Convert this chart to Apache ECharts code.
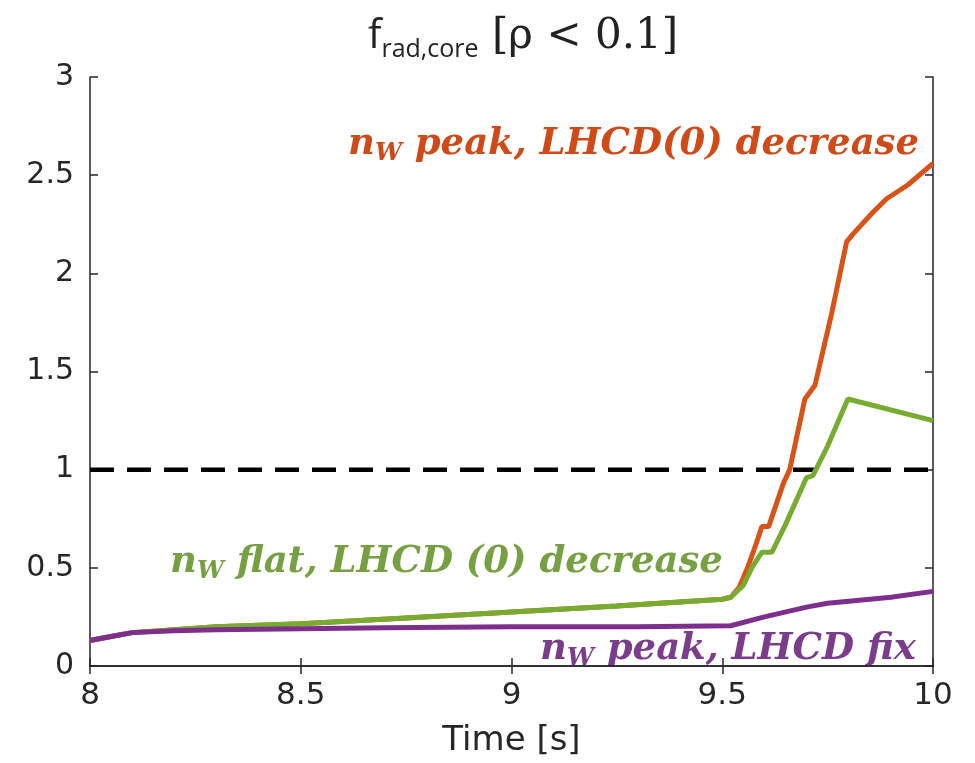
<!DOCTYPE html>
<html><head><meta charset="utf-8">
<script src="https://cdn.jsdelivr.net/npm/echarts@6/dist/echarts.min.js"></script>
<style>html,body{margin:0;padding:0;background:#fff}#c{width:975px;height:763px}</style>
</head><body><div id="c"></div>
<script>
var xTicks = [8, 8.5, 9, 9.5, 10];
var yTicks = [0, 0.5, 1, 1.5, 2, 2.5, 3];

var tOrange = [8.0, 8.05, 8.1, 8.2, 8.3, 8.5, 8.75, 9.0, 9.25, 9.5, 9.52, 9.54, 9.56, 9.58, 9.594, 9.61, 9.645, 9.66, 9.696, 9.72, 9.76, 9.795, 9.81, 9.857, 9.89, 9.94, 10.0];
var vOrange = [0.13, 0.15, 0.17, 0.185, 0.2, 0.215, 0.245, 0.275, 0.305, 0.34, 0.35, 0.4, 0.5, 0.62, 0.71, 0.71, 0.93, 1.0, 1.36, 1.43, 1.8, 2.16, 2.2, 2.31, 2.38, 2.45, 2.56];

var tGreen = [8.0, 8.05, 8.1, 8.2, 8.3, 8.5, 8.75, 9.0, 9.25, 9.5, 9.52, 9.55, 9.57, 9.594, 9.618, 9.65, 9.70, 9.715, 9.75, 9.798, 10.0];
var vGreen = [0.13, 0.15, 0.17, 0.185, 0.2, 0.215, 0.245, 0.275, 0.305, 0.34, 0.35, 0.41, 0.5, 0.58, 0.58, 0.72, 0.96, 0.97, 1.12, 1.36, 1.25];

var tPurple = [8.0, 8.05, 8.1, 8.2, 8.3, 8.5, 8.7, 9.0, 9.3, 9.52, 9.6, 9.7, 9.75, 9.8, 9.9, 10.0];
var vPurple = [0.13, 0.15, 0.17, 0.18, 0.185, 0.19, 0.195, 0.2, 0.2, 0.205, 0.25, 0.3, 0.32, 0.33, 0.35, 0.38];

var tRef = [8, 10];
var vRef = [1, 1];

function pairs(t, v) { return t.map(function (x, i) { return [x, v[i]]; }); }

var chart = echarts.init(document.getElementById('c'));
var axCol = '#262626';
var serifBI = 'DejaVu Serif';
function annot(left, top, rest, color) {
  return { type: 'text', left: left, top: top, style: {
    text: '{n|n}{s|W}{n|' + rest + '}',
    rich: {
      n: { fontFamily: serifBI, fontStyle: 'italic', fontWeight: 'bold', fontSize: 37, fill: color },
      s: { fontFamily: serifBI, fontStyle: 'italic', fontWeight: 'bold', fontSize: 24, fill: color, padding: [19, 0, 0, 0] }
    } } };
}
chart.setOption({
  animation: false,
  backgroundColor: '#fff',
  grid: { left: 90, right: 42, top: 77, bottom: 93, containLabel: false },
  xAxis: [{
    type: 'value', min: 8, max: 10, interval: 0.5,
    axisLine: { show: true, lineStyle: { color: axCol, width: 1.5 } },
    axisTick: { show: true, inside: true, length: 8, lineStyle: { color: axCol, width: 1.5 } },
    axisLabel: { color: axCol, fontSize: 31, fontFamily: 'DejaVu Sans', margin: 14,
      formatter: function (v) { return xTicks.indexOf(v) >= 0 ? String(v) : ''; } },
    splitLine: { show: false },
    name: 'Time [s]', nameLocation: 'middle', nameGap: 58,
    nameTextStyle: { color: axCol, fontSize: 34, fontFamily: 'DejaVu Sans', verticalAlign: 'top' }
  }, {
    type: 'value', min: 8, max: 10, interval: 0.5, position: 'top',
    axisLine: { show: true, lineStyle: { color: axCol, width: 1.5 } },
    axisTick: { show: true, inside: true, length: 8, lineStyle: { color: axCol, width: 1.5 } },
    axisLabel: { show: false }, splitLine: { show: false }
  }],
  yAxis: [{
    type: 'value', min: 0, max: 3, interval: 0.5,
    axisLine: { show: true, lineStyle: { color: axCol, width: 1.5 } },
    axisTick: { show: true, inside: true, length: 8, lineStyle: { color: axCol, width: 1.5 } },
    axisLabel: { color: axCol, fontSize: 30, fontFamily: 'DejaVu Sans', margin: 16,
      formatter: function (v) { return yTicks.indexOf(v) >= 0 ? String(v) : ''; } },
    splitLine: { show: false }
  }, {
    type: 'value', min: 0, max: 3, interval: 0.5, position: 'right',
    axisLine: { show: true, lineStyle: { color: axCol, width: 1.5 } },
    axisTick: { show: true, inside: true, length: 8, lineStyle: { color: axCol, width: 1.5 } },
    axisLabel: { show: false }, splitLine: { show: false }
  }],
  series: [
    { type: 'line', data: pairs(tRef, vRef), showSymbol: false, symbol: 'none',
      lineStyle: { color: '#000', width: 4.5, type: [24, 13] }, z: 1 },
    { type: 'line', data: pairs(tOrange, vOrange), showSymbol: false, symbol: 'none',
      lineStyle: { color: '#d95319', width: 5 }, z: 2 },
    { type: 'line', data: pairs(tGreen, vGreen), showSymbol: false, symbol: 'none',
      lineStyle: { color: '#77ac30', width: 5 }, z: 3 },
    { type: 'line', data: pairs(tPurple, vPurple), showSymbol: false, symbol: 'none',
      lineStyle: { color: '#7e2f8e', width: 5 }, z: 4 }
  ],
  graphic: [
    { type: 'text', left: 368, top: 16, style: {
      text: '{f|f}{s|rad,core}{m| [ρ < 0.1]}',
      rich: {
        f: { fontFamily: 'Open Sans', fontSize: 40, fill: '#222' },
        s: { fontFamily: 'Open Sans', fontSize: 25, fill: '#222', padding: [26, 0, 0, 0] },
        m: { fontFamily: 'DejaVu Serif', fontSize: 42, fill: '#222' }
      } } },
    annot(348, 126, ' peak, LHCD(0) decrease', '#d04a17'),
    annot(170, 544, ' flat, LHCD (0) decrease', '#77a043'),
    annot(540, 631, ' peak, LHCD fix', '#7b3c8b')
  ]
});
</script></body></html>
